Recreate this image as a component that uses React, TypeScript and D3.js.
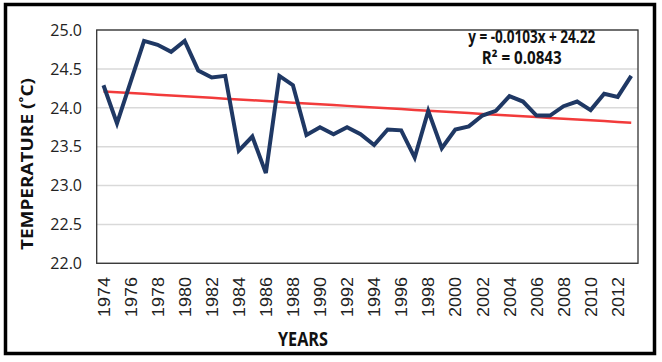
import React from 'react';
import * as d3 from 'd3';

// yearly mean temperature
const years = d3.range(1974, 2014).map(String);
const temps = [
  24.29, 23.8, 24.33, 24.86, 24.81, 24.72, 24.86, 24.48, 24.39, 24.41,
  23.45, 23.63, 23.16, 24.41, 24.29, 23.65, 23.75, 23.66, 23.75, 23.66,
  23.52, 23.72, 23.71, 23.36, 23.96, 23.48, 23.72, 23.76, 23.9, 23.96,
  24.15, 24.08, 23.9, 23.9, 24.02, 24.08, 23.97, 24.18, 24.14, 24.41,
];
const yTicks = [22.0, 22.5, 23.0, 23.5, 24.0, 24.5, 25.0];
// linear trend reported on the chart (x = 1..n)
const slope = -0.0103;
const intercept = 24.22;

const W = 662;
const H = 362;
const plot = { left: 96.7, right: 638, top: 30, bottom: 263.3 };

export default function App() {
  const x = d3.scaleBand<string>().domain(years).range([plot.left, plot.right]);
  const y = d3.scaleLinear().domain([22, 25]).range([plot.bottom, plot.top]);
  const cx = (yr: string) => (x(yr) as number) + x.bandwidth() / 2;

  const line = d3
    .line<number>()
    .x((d, i) => cx(years[i]))
    .y((d) => y(d));

  const trend = years.map((_, i) => slope * (i + 1) + intercept);

  return (
    <svg
      width={W}
      height={H}
      style={{ position: 'absolute', left: 0, top: 0, background: '#fff' }}
    >
      <rect x={5.5} y={4.5} width={649} height={349} fill="#fff" stroke="#000" strokeWidth={3.5} />

      {/* gridlines */}
      {yTicks.map((t) => (
        <line key={t} x1={plot.left} x2={plot.right} y1={y(t)} y2={y(t)} stroke="#d9d9d9" strokeWidth={1.5} />
      ))}
      <rect
        x={plot.left}
        y={plot.top}
        width={plot.right - plot.left}
        height={plot.bottom - plot.top}
        fill="none"
        stroke="#333"
        strokeWidth={1.3}
      />

      {/* y tick labels */}
      {yTicks.map((t) => (
        <text
          key={t}
          x={82}
          y={y(t)}
          dy="0.36em"
          textAnchor="end"
          fontFamily="'Open Sans', sans-serif"
          fontSize={16}
          fill="#222"
        >
          {d3.format('.1f')(t)}
        </text>
      ))}

      {/* x tick labels, every second year */}
      {years
        .filter((_, i) => i % 2 === 0)
        .map((yr) => (
          <text
            key={yr}
            transform={`translate(${cx(yr)},277) rotate(-90)`}
            dy="0.36em"
            textAnchor="end"
            fontFamily="'Liberation Sans', Arial, sans-serif"
            fontSize={17}
            textLength={40}
            lengthAdjust="spacingAndGlyphs"
            fill="#222"
          >
            {yr}
          </text>
        ))}

      <path d={line(trend) as string} fill="none" stroke="#f23b3b" strokeWidth={2.5} />
      <path
        d={line(temps) as string}
        fill="none"
        stroke="#1f3864"
        strokeWidth={4}
        strokeLinejoin="miter"
      />

      {/* equation */}
      <text
        x={531.7}
        y={43.3}
        textAnchor="middle"
        fontFamily="'Open Sans', sans-serif"
        fontWeight="bold"
        fontSize={18}
        textLength={127}
        lengthAdjust="spacingAndGlyphs"
        fill="#111"
      >
        y = -0.0103x + 24.22
      </text>
      <text
        x={521.7}
        y={64.3}
        textAnchor="middle"
        fontFamily="'Open Sans', sans-serif"
        fontWeight="bold"
        fontSize={17}
        textLength={80}
        lengthAdjust="spacingAndGlyphs"
        fill="#111"
      >
        R² = 0.0843
      </text>

      {/* axis titles */}
      <text
        x={303}
        y={346}
        textAnchor="middle"
        fontFamily="'Open Sans', sans-serif"
        fontWeight="bold"
        fontSize={19}
        textLength={50}
        lengthAdjust="spacingAndGlyphs"
        fill="#111"
      >
        YEARS
      </text>
      <text
        transform="translate(27.5,164) rotate(-90)"
        dy="0.36em"
        textAnchor="middle"
        fontFamily="'Open Sans', sans-serif"
        fontWeight="bold"
        fontSize={16}
        textLength={172}
        lengthAdjust="spacingAndGlyphs"
        fill="#111"
      >
        TEMPERATURE (˚C)
      </text>
    </svg>
  );
}
